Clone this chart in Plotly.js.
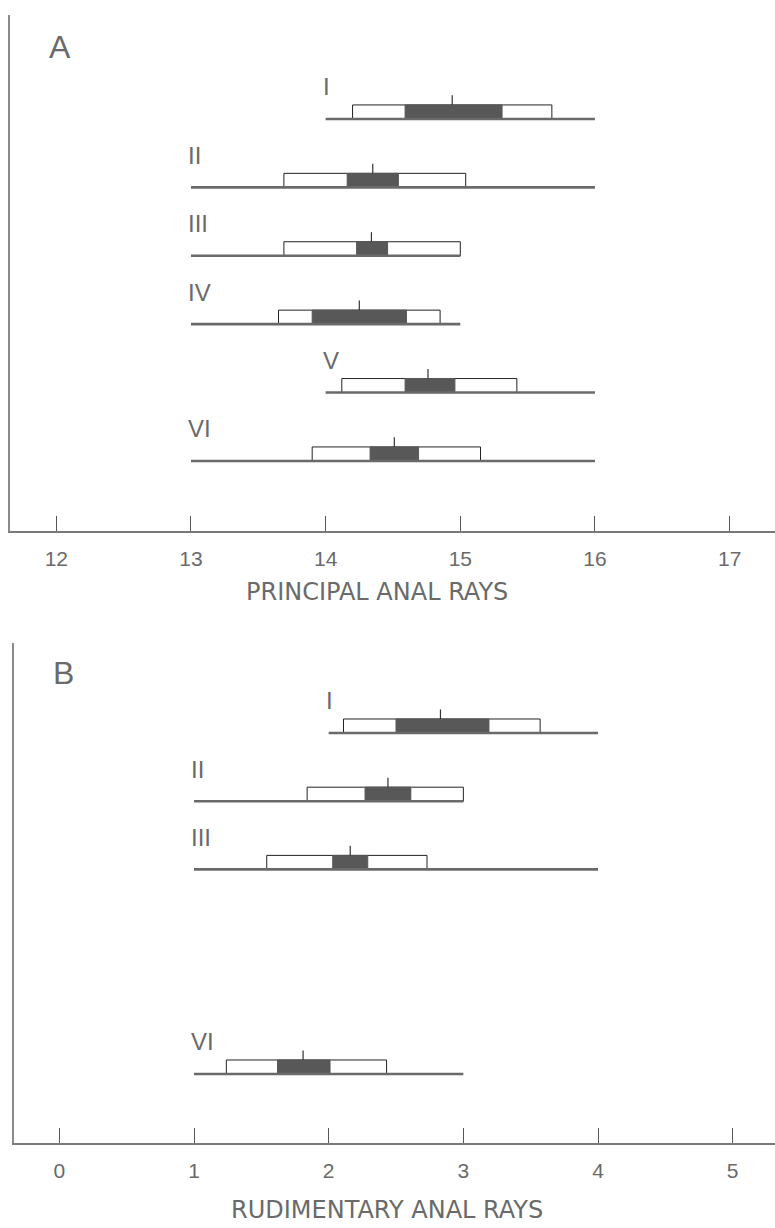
<!DOCTYPE html>
<html>
<head>
<meta charset="utf-8">
<script src="https://cdn.plot.ly/plotly-3.0.1.min.js"></script>
<style>html,body{margin:0;padding:0;background:#fff;}#chart{width:775px;height:1228px;}</style>
</head>
<body>
<div id="chart"></div>
<script>
// ---- Data ----
const romanOrder = ['I', 'II', 'III', 'IV', 'V', 'VI'];

// Panel A: principal anal rays
const groupsA   = ['I', 'II', 'III', 'IV', 'V', 'VI'];
const rangeMinA = [14, 13, 13, 13, 14, 13];
const rangeMaxA = [16, 16, 15, 15, 16, 16];
const meanA     = [14.94, 14.35, 14.34, 14.25, 14.76, 14.51];
const sdLoA     = [14.20, 13.69, 13.69, 13.65, 14.12, 13.90];
const sdHiA     = [15.68, 15.04, 15.00, 14.85, 15.42, 15.15];
const seLoA     = [14.59, 14.16, 14.23, 13.90, 14.59, 14.33];
const seHiA     = [15.31, 14.54, 14.46, 14.60, 14.96, 14.69];
const ticksA    = [12, 13, 14, 15, 16, 17];
const titleA    = 'PRINCIPAL ANAL RAYS';

// Panel B: rudimentary anal rays
const groupsB   = ['I', 'II', 'III', 'VI'];
const rangeMinB = [2, 1, 1, 1];
const rangeMaxB = [4, 3, 4, 3];
const meanB     = [2.83, 2.44, 2.16, 1.81];
const sdLoB     = [2.11, 1.84, 1.54, 1.24];
const sdHiB     = [3.57, 3.00, 2.73, 2.43];
const seLoB     = [2.50, 2.27, 2.03, 1.62];
const seHiB     = [3.19, 2.61, 2.29, 2.01];
const ticksB    = [0, 1, 2, 3, 4, 5];
const titleB    = 'RUDIMENTARY ANAL RAYS';

// ---- Styling ----
const BOX_H = 0.205;   // box height in row units
const TICK_H = 0.14;   // mean tick above box
const LINE_COL = '#6a6a6a';
const DARK = '#585858';
const TEXT_COL = '#6a6a6a';
const FONT = 'Liberation Sans, Arial, sans-serif';
const WIDE_FONT = 'DejaVu Sans, sans-serif';

function buildPanel(groups, mn, mx, mean, sdLo, sdHi, seLo, seHi, xa, ya) {
  const base = {x: [], y: []}, sd = {x: [], y: []}, se = {x: [], y: []}, mt = {x: [], y: []};
  const ann = [];
  groups.forEach((g, i) => {
    const r = romanOrder.indexOf(g) + 1;
    base.x.push(mn[i], mx[i], null); base.y.push(r, r, null);
    sd.x.push(sdLo[i], sdHi[i], sdHi[i], sdLo[i], sdLo[i], null);
    sd.y.push(r, r, r - BOX_H, r - BOX_H, r, null);
    se.x.push(seLo[i], seHi[i], seHi[i], seLo[i], seLo[i], null);
    se.y.push(r, r, r - BOX_H, r - BOX_H, r, null);
    mt.x.push(mean[i], mean[i], null); mt.y.push(r - BOX_H, r - BOX_H - TICK_H, null);
    ann.push({x: mn[i], y: r - 0.47, xref: xa, yref: ya, text: g, showarrow: false,
              xanchor: 'left', yanchor: 'middle', xshift: -5,
              font: {family: FONT, size: 24, color: TEXT_COL}});
  });
  const traces = [
    {x: sd.x, y: sd.y, xaxis: xa, yaxis: ya, mode: 'lines', fill: 'toself', fillcolor: '#ffffff',
     line: {color: '#222', width: 1}, hoverinfo: 'skip', showlegend: false},
    {x: se.x, y: se.y, xaxis: xa, yaxis: ya, mode: 'lines', fill: 'toself', fillcolor: DARK,
     line: {color: DARK, width: 1}, hoverinfo: 'skip', showlegend: false},
    {x: base.x, y: base.y, xaxis: xa, yaxis: ya, mode: 'lines',
     line: {color: LINE_COL, width: 2.6}, hoverinfo: 'skip', showlegend: false},
    {x: mt.x, y: mt.y, xaxis: xa, yaxis: ya, mode: 'lines',
     line: {color: '#333', width: 1.2}, hoverinfo: 'skip', showlegend: false}
  ];
  return {traces, ann};
}

const pA = buildPanel(groupsA, rangeMinA, rangeMaxA, meanA, sdLoA, sdHiA, seLoA, seHiA, 'x', 'y');
const pB = buildPanel(groupsB, rangeMinB, rangeMaxB, meanB, sdLoB, sdHiB, seLoB, seHiB, 'x2', 'y2');

const xCommon = {
  showgrid: false, zeroline: false, showline: true, linecolor: '#7a7a7a', linewidth: 2,
  ticks: 'inside', ticklen: 15, tickwidth: 1, tickcolor: '#555',
  tickmode: 'array', ticklabelstandoff: 8,
  tickfont: {family: FONT, size: 21, color: TEXT_COL},
  fixedrange: true
};
const yCommon = {
  showgrid: false, zeroline: false, showline: true, linecolor: '#8a8a8a', linewidth: 2,
  ticks: '', showticklabels: false, fixedrange: true
};

const layout = {
  width: 775, height: 1228,
  margin: {l: 10, r: 0, t: 15, b: 85},
  paper_bgcolor: '#ffffff', plot_bgcolor: '#ffffff',
  showlegend: false,
  xaxis: Object.assign({}, xCommon, {
    domain: [0, 1], anchor: 'y', range: [11.656, 17.337],
    tickvals: ticksA, ticktext: ticksA.map(String)
  }),
  yaxis: Object.assign({}, yCommon, {domain: [0.5426, 1], anchor: 'x', range: [7.023, -0.52]}),
  xaxis2: Object.assign({}, xCommon, {
    domain: [4 / 765, 1], anchor: 'y2', range: [-0.3366, 5.314],
    tickvals: ticksB, ticktext: ticksB.map(String)
  }),
  yaxis2: Object.assign({}, yCommon, {domain: [0, 0.4433], anchor: 'x2', range: [7.012, -0.32]}),
  annotations: pA.ann.concat(pB.ann).concat([
    {x: 0.0654, y: 0.9716, xref: 'paper', yref: 'paper', text: 'A', showarrow: false,
     xanchor: 'center', yanchor: 'middle', font: {family: FONT, size: 32, color: TEXT_COL}},
    {x: 0.0693, y: 0.4167, xref: 'paper', yref: 'paper', text: 'B', showarrow: false,
     xanchor: 'center', yanchor: 'middle', font: {family: FONT, size: 32, color: TEXT_COL}},
    {x: 0.4793, y: 0.4885, xref: 'paper', yref: 'paper', text: titleA, showarrow: false,
     xanchor: 'center', yanchor: 'middle', font: {family: WIDE_FONT, size: 24, color: TEXT_COL}},
    {x: 0.4924, y: -0.0594, xref: 'paper', yref: 'paper', text: titleB, showarrow: false,
     xanchor: 'center', yanchor: 'middle', font: {family: WIDE_FONT, size: 24, color: TEXT_COL}}
  ])
};

Plotly.newPlot('chart', pA.traces.concat(pB.traces), layout, {displayModeBar: false, staticPlot: true});
</script>
</body>
</html>
